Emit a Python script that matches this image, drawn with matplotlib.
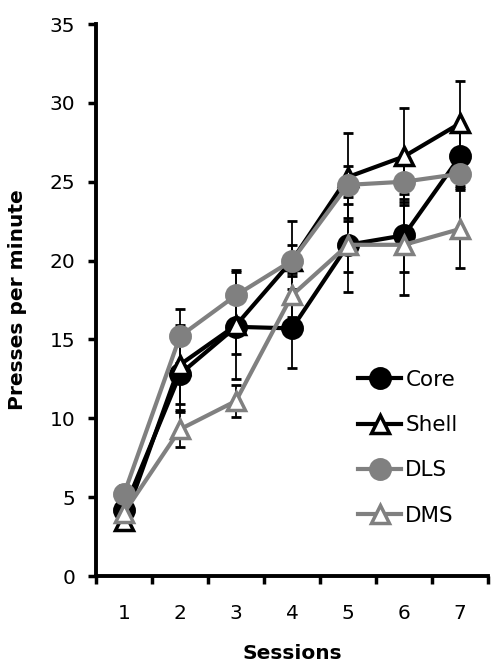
import matplotlib
matplotlib.use("Agg")
import matplotlib.pyplot as plt

# sesiones y datos (presiones por minuto)
sessions = [1, 2, 3, 4, 5, 6, 7]
core = [4.2, 12.8, 15.8, 15.7, 21.0, 21.6, 26.6]
shell = [3.5, 13.4, 15.9, 20.0, 25.3, 26.6, 28.7]
dls = [5.2, 15.2, 17.8, 20.0, 24.8, 25.0, 25.5]
dms = [4.0, 9.3, 11.1, 17.8, 21.0, 21.0, 22.0]

core_err = [0.5, 2.3, 1.7, 2.5, 3.0, 2.3, 2.0]
shell_err = [0.4, 2.5, 3.4, 1.0, 2.8, 3.1, 2.7]
dls_err = [0.6, 1.7, 1.6, 2.5, 1.2, 1.3, 0.8]
dms_err = [0.5, 1.1, 1.0, 1.4, 1.7, 3.2, 2.5]

GRAY = "#808080"

plt.rcParams["font.family"] = ["DejaVu Sans"]

fig = plt.figure(figsize=(4.92, 6.62), dpi=100)
ax = fig.add_axes([96 / 492, 86 / 662, 392 / 492, 552 / 662])

series = [
    ("Core", core, core_err, "black", "o", "black"),
    ("Shell", shell, shell_err, "black", "^", "white"),
    ("DLS", dls, dls_err, GRAY, "o", GRAY),
    ("DMS", dms, dms_err, GRAY, "^", "white"),
]

# barras de error primero, todas en negro
for name, vals, err, col, mk, face in series:
    ax.errorbar(sessions, vals, yerr=err, fmt="none", ecolor="black",
                elinewidth=1.3, capsize=3.5, capthick=2, zorder=1)

for i, (name, vals, err, col, mk, face) in enumerate(series):
    ms = 14 if mk == "o" else 13
    ax.plot(sessions, vals, color=col, lw=3, marker=mk, markersize=ms,
            markerfacecolor=face, markeredgecolor=col, markeredgewidth=2.5,
            label=name, zorder=2 + i)

ax.set_xlim(0.5, 7.5)
ax.set_ylim(0, 35)
ax.set_yticks(range(0, 36, 5))

# ticks en los limites de cada sesion, etiquetas en el centro
ax.set_xticks([0.5 + k for k in range(8)])
ax.set_xticklabels([])
ax.set_xticks(sessions, minor=True)
ax.set_xticklabels([str(s) for s in sessions], minor=True)
ax.tick_params(axis="x", which="major", direction="out", length=6, width=2.5)
ax.tick_params(axis="x", which="minor", length=0, pad=20, labelsize=14.5)
ax.tick_params(axis="y", direction="out", length=6, width=2.5, pad=9, labelsize=14.5)

for side in ["top", "right"]:
    ax.spines[side].set_visible(False)
for side in ["left", "bottom"]:
    ax.spines[side].set_linewidth(2.8)

ax.set_xlabel("Sessions", fontsize=14.5, fontweight="bold", labelpad=15)
ax.set_ylabel("Presses per minute", fontsize=14.5, fontweight="bold", labelpad=16)

ax.legend(loc="upper left", bbox_to_anchor=(358 / 492, 1 - 370 / 662),
          bbox_transform=fig.transFigure, frameon=False, fontsize=15.5,
          handlelength=2.0, handletextpad=0.2, labelspacing=1.17,
          borderpad=0, borderaxespad=0)

fig.savefig("out.png", dpi=100)
